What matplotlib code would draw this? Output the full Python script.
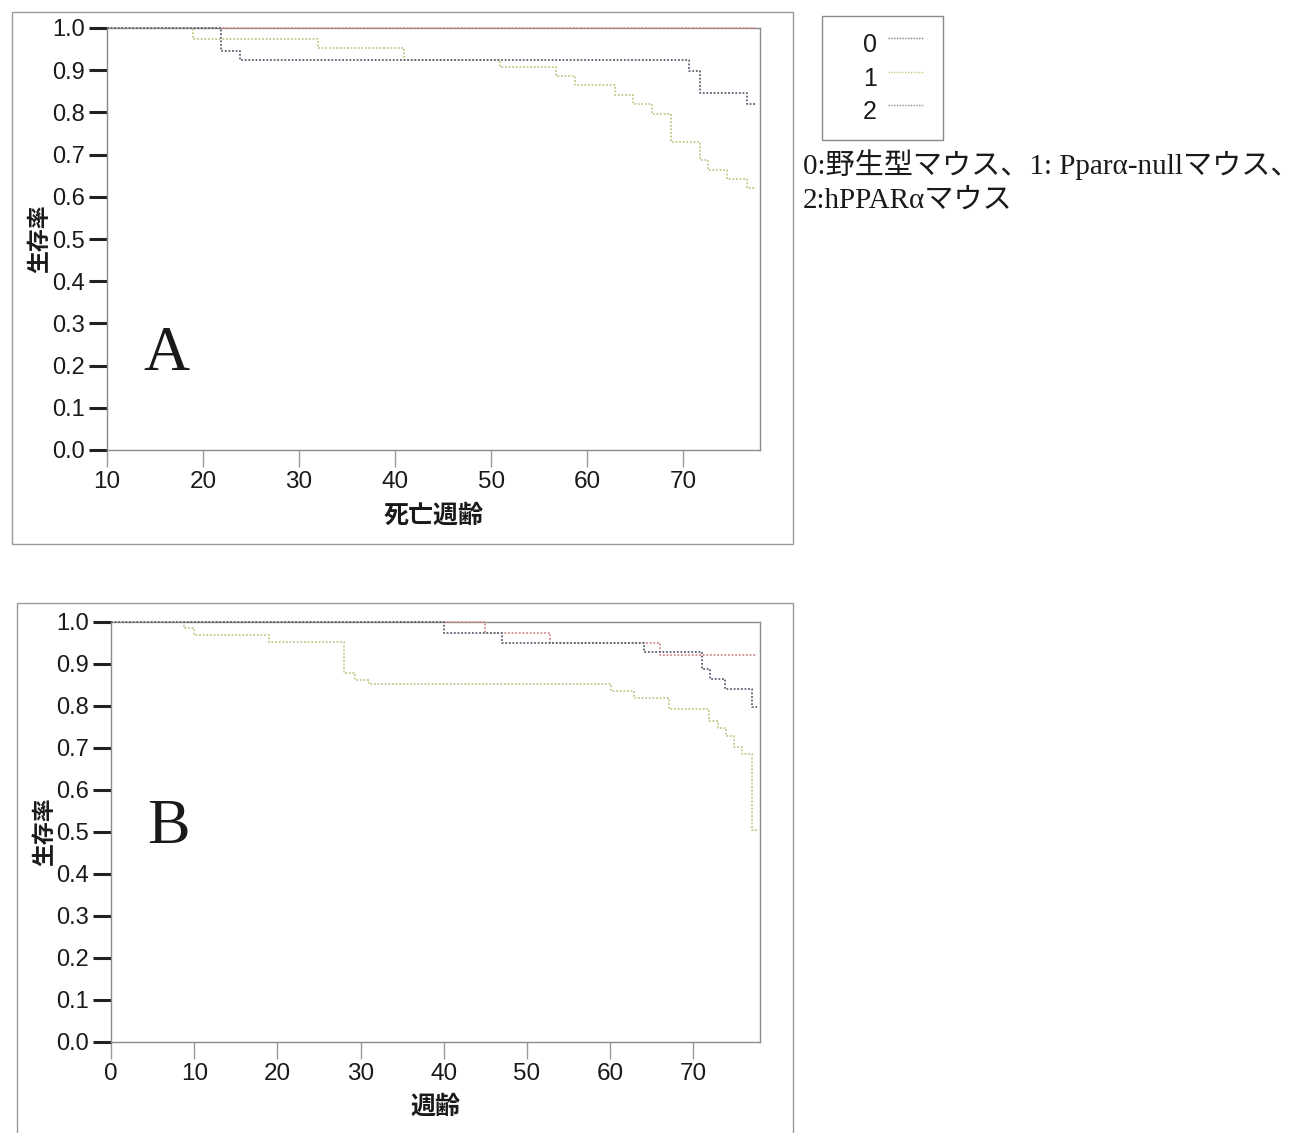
import matplotlib
matplotlib.use("Agg")
import matplotlib.pyplot as plt
from matplotlib.patches import Rectangle

# ---------------- data ----------------
groups = ["0", "1", "2"]

# Panel A (x: 死亡週齢)
a_end = 77.6
a0_t = []
a0_s = []
a1_t = [19.0, 32.0, 40.9, 50.9, 56.8, 58.75, 62.9, 64.8, 66.8, 68.75, 71.7, 72.6, 74.6, 76.6]
a1_s = [0.974, 0.952, 0.925, 0.908, 0.887, 0.864, 0.841, 0.819, 0.796, 0.730, 0.687, 0.664, 0.641, 0.620]
a2_t = [21.9, 23.9, 70.6, 71.7, 76.6]
a2_s = [0.945, 0.923, 0.897, 0.847, 0.819]

# Panel B (x: 週齢)
b_end = 77.6
b0_t = [45.0, 52.8, 66.0]
b0_s = [0.975, 0.951, 0.921]
b1_t = [8.8, 10.0, 19.0, 28.0, 29.3, 31.0, 60.1, 62.9, 67.1, 71.9, 73.0, 73.9, 74.9, 75.8, 77.0]
b1_s = [0.985, 0.969, 0.952, 0.879, 0.862, 0.852, 0.836, 0.818, 0.792, 0.765, 0.747, 0.729, 0.703, 0.686, 0.505]
b2_t = [40.0, 47.0, 64.0, 71.0, 72.0, 73.8, 77.0]
b2_s = [0.975, 0.951, 0.929, 0.887, 0.864, 0.840, 0.797]

y_ticks = [0.0, 0.1, 0.2, 0.3, 0.4, 0.5, 0.6, 0.7, 0.8, 0.9, 1.0]
a_xticks = [10, 20, 30, 40, 50, 60, 70]
b_xticks = [0, 10, 20, 30, 40, 50, 60, 70]

colors = {"0": "#d48a8a", "1": "#c2c98a", "2": "#5c6272"}
legend_colors = {"0": "#7a7a86", "1": "#c4cc7c", "2": "#8a8e9a"}

caption1 = "0:野生型マウス、1: Pparα-nullマウス、"
caption2 = "2:hPPARαマウス"

# ---------------- figure ----------------
W, H = 1313, 1133
fig = plt.figure(figsize=(W / 100, H / 100), dpi=100)
fig.patch.set_facecolor("white")

cjk = ["Noto Sans CJK JP", "DejaVu Sans"]
serif_mix = ["Liberation Serif", "Noto Sans CJK JP"]


def frac_rect(x0, y0, x1, y1):
    return (x0 / W, 1 - y1 / H, (x1 - x0) / W, (y1 - y0) / H)


def steps(start, end, t, s):
    xs = [start] + list(t) + [end]
    ys = [1.0] + list(s) + [s[-1] if s else 1.0]
    return xs, ys


def draw_panel(rect, xlim, end, xticks, series, xlabel, letter, letter_pos,
               ylab_x, xlab_pad):
    ax = fig.add_axes(frac_rect(*rect))
    for g, (t, s) in zip(groups, series):
        xs, ys = steps(xlim[0], end, t, s)
        ax.step(xs, ys, where="post", color=colors[g], lw=1.3,
                linestyle=(0, (1, 1)), zorder=3, clip_on=False)
    ax.set_xlim(*xlim)
    ax.set_ylim(0, 1.0)
    ax.set_yticks(y_ticks)
    ax.set_yticklabels([f"{v:.1f}" for v in y_ticks])
    ax.set_xticks(xticks)
    ax.set_xticklabels([str(v) for v in xticks])
    for sp in ax.spines.values():
        sp.set_color("#8a8a8a")
        sp.set_linewidth(1.0)
    ax.tick_params(axis="y", direction="out", length=13, width=2.2,
                   color="#222222", labelsize=17, pad=3)
    ax.tick_params(axis="x", direction="out", length=12, width=1.0,
                   color="#9a9a9a", labelsize=17.5, pad=3)
    for lab in ax.get_xticklabels() + ax.get_yticklabels():
        lab.set_family(["Liberation Sans", "DejaVu Sans"])
        lab.set_color("#1a1a1a")
    ax.set_xlabel(xlabel, family=cjk, fontsize=18, fontweight="bold",
                  color="#1a1a1a", labelpad=xlab_pad)
    ax.set_ylabel("生存率", family=cjk, fontsize=16.5, fontweight="bold",
                  color="#1a1a1a")
    ax.yaxis.set_label_coords(ylab_x, 0.5)
    ax.text(letter_pos[0], letter_pos[1], letter,
            transform=ax.transAxes, family="Liberation Serif",
            fontsize=46, color="#1a1a1a", va="center", ha="left")
    return ax


# panel frames
for r in [(12, 12, 793, 544), (17, 603, 793, 1140)]:
    x0, y0, x1, y1 = r
    fig.patches.append(Rectangle((x0 / W, 1 - y1 / H), (x1 - x0) / W, (y1 - y0) / H,
                                 transform=fig.transFigure, fill=False,
                                 edgecolor="#9a9a9a", lw=1.0))

axA = draw_panel((107, 28, 760, 450), (10, 78), a_end, a_xticks,
                 [(a0_t, a0_s), (a1_t, a1_s), (a2_t, a2_s)],
                 "死亡週齢", "A", (0.056, 0.225), -0.085, 8)
axB = draw_panel((111, 622, 760, 1042), (0, 78), b_end, b_xticks,
                 [(b0_t, b0_s), (b1_t, b1_s), (b2_t, b2_s)],
                 "週齢", "B", (0.055, 0.51), -0.085, 7)

# legend box
lx0, ly0, lx1, ly1 = 822, 16, 943, 140
fig.patches.append(Rectangle((lx0 / W, 1 - ly1 / H), (lx1 - lx0) / W, (ly1 - ly0) / H,
                             transform=fig.transFigure, fill=False,
                             edgecolor="#8a8a8a", lw=1.0))
for i, g in enumerate(groups):
    yc = 45 + i * 33.5
    fig.text(870 / W, 1 - yc / H, g, family="Liberation Sans", fontsize=18,
             ha="center", va="center", color="#1a1a1a")
    fig.add_artist(plt.Line2D([888 / W, 924 / W], [1 - (yc - 7) / H] * 2,
                              transform=fig.transFigure, color=legend_colors[g],
                              lw=1.0, linestyle=(0, (1, 1))))

fig.text(803 / W, 1 - 165 / H, caption1, family=serif_mix, fontsize=21,
         ha="left", va="center", color="#1a1a1a")
fig.text(803 / W, 1 - 201 / H, caption2, family=serif_mix, fontsize=21,
         ha="left", va="center", color="#1a1a1a")

fig.savefig("out.png", dpi=100, facecolor="white")
